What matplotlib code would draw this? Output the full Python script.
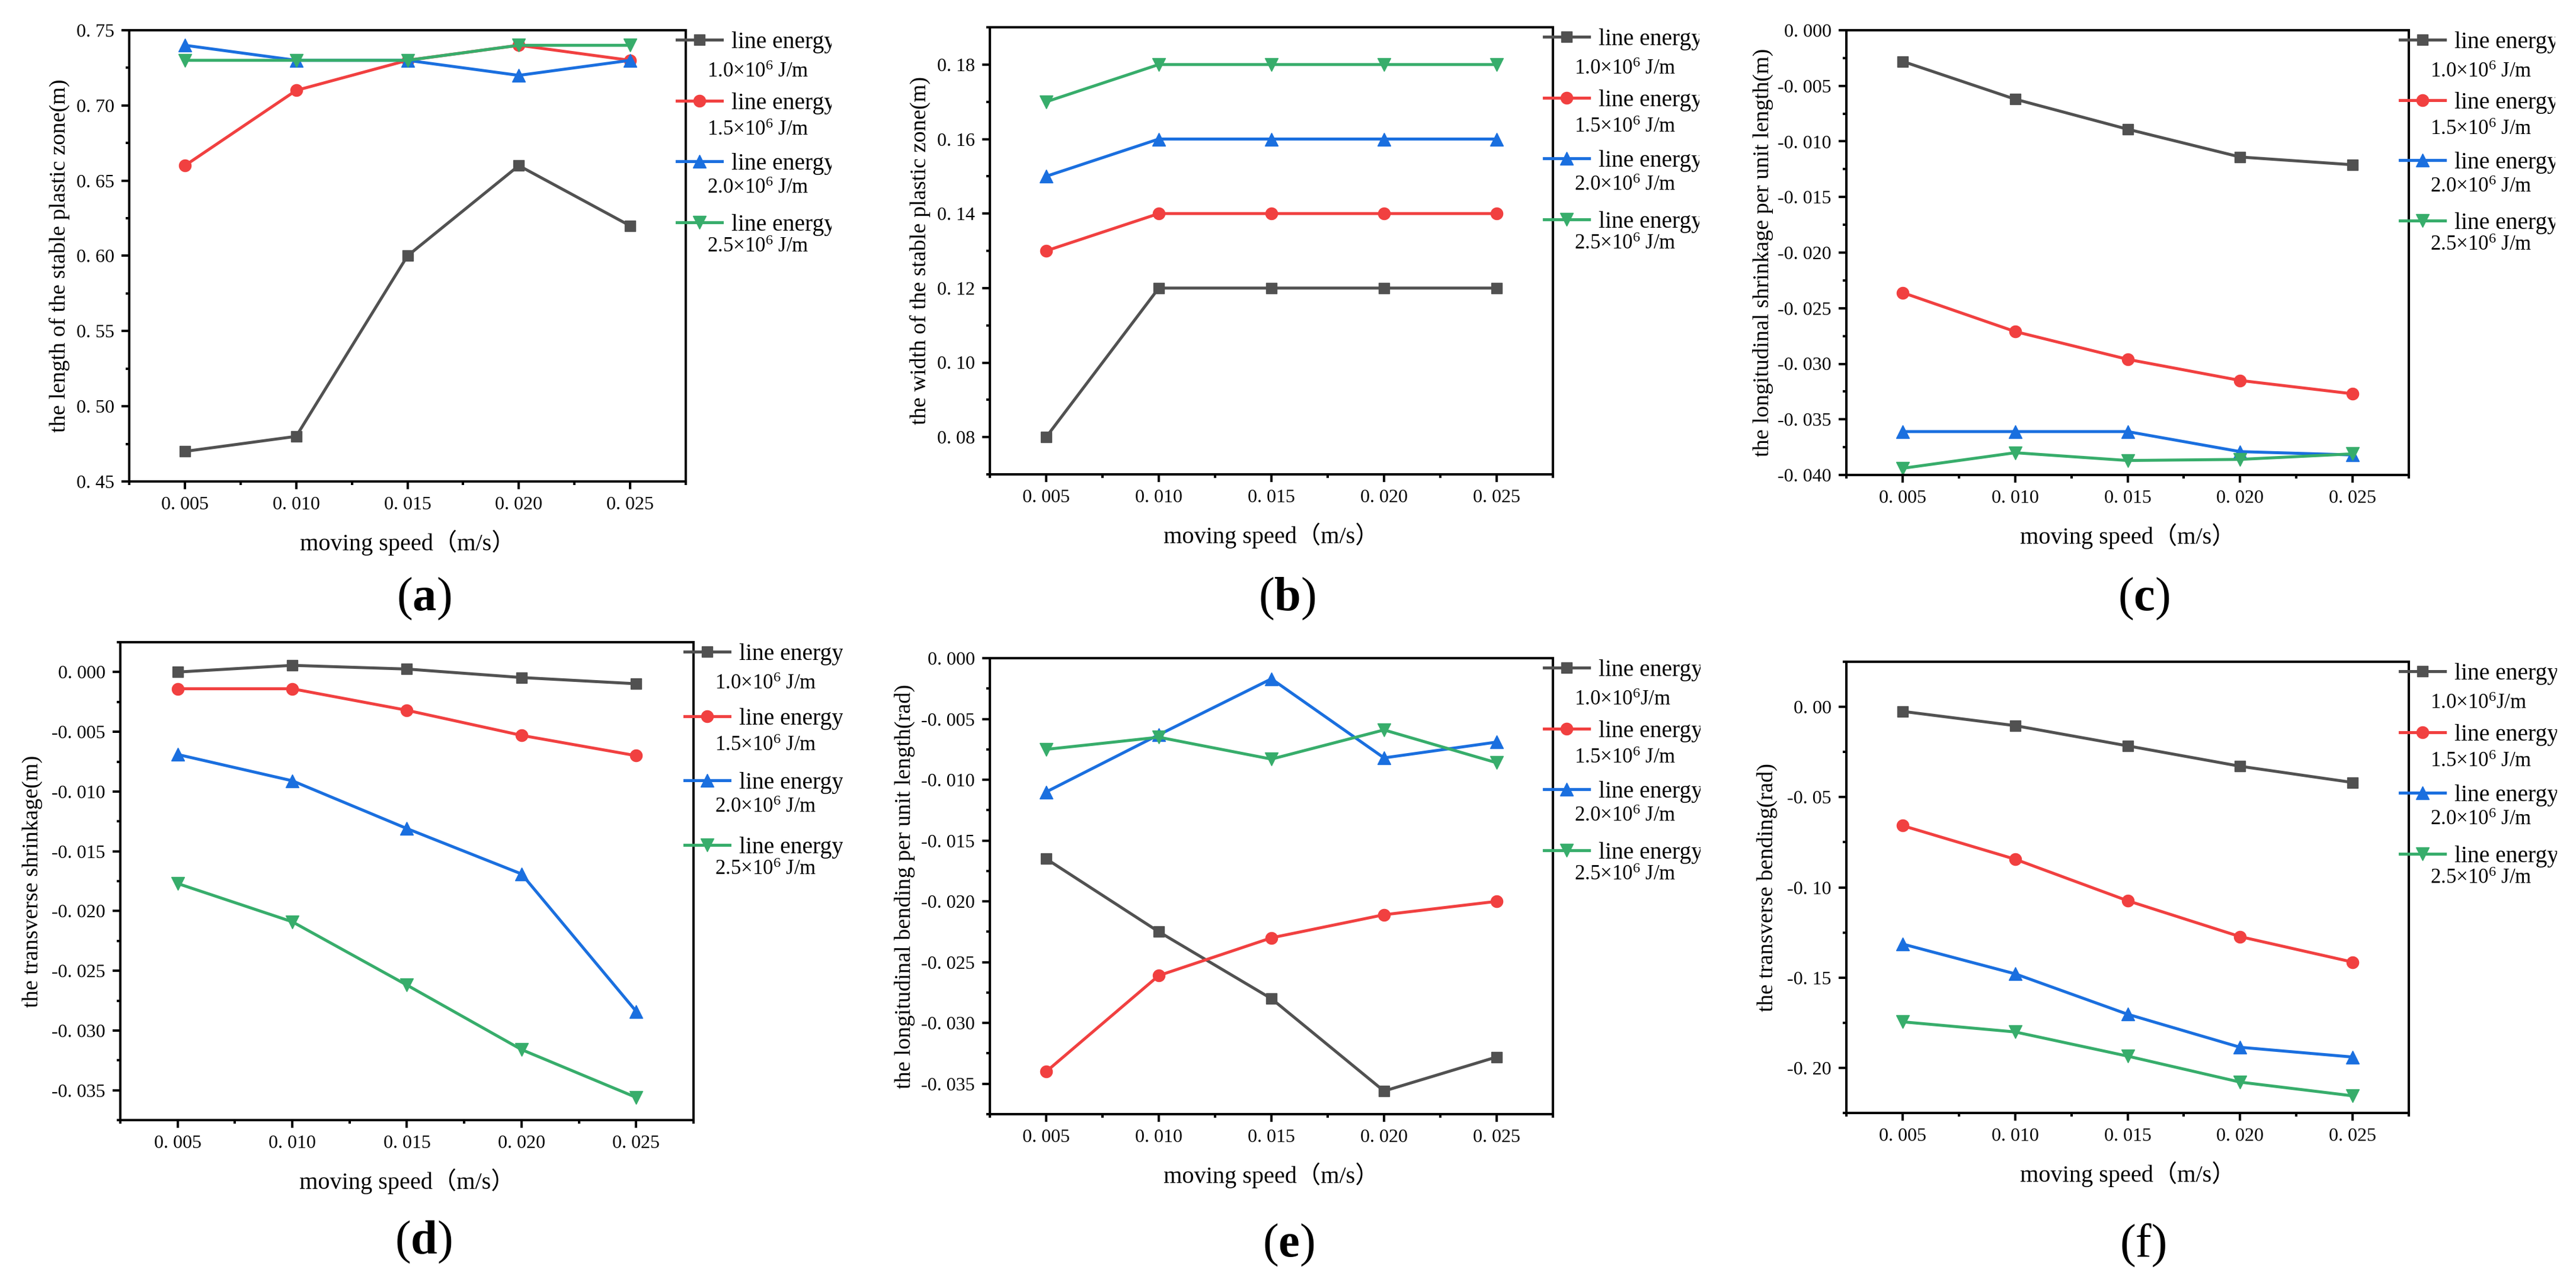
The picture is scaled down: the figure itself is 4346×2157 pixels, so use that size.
import matplotlib
matplotlib.use("Agg")
import matplotlib.pyplot as plt
from matplotlib.ticker import MultipleLocator, FuncFormatter
from matplotlib.transforms import Bbox, TransformedBbox

W, H = 4346, 2157
plt.rcParams['font.family'] = ['Liberation Serif', 'Noto Sans CJK SC']
plt.rcParams['mathtext.fontset'] = 'custom'
plt.rcParams['mathtext.rm'] = 'Liberation Serif'
plt.rcParams['mathtext.it'] = 'Liberation Serif:italic'
plt.rcParams['mathtext.bf'] = 'Liberation Serif:bold'

# data
speed = [0.005, 0.010, 0.015, 0.020, 0.025]
energy = ["1.0", "1.5", "2.0", "2.5"]

plastic_length = [
    [0.47, 0.48, 0.60, 0.66, 0.62],
    [0.66, 0.71, 0.73, 0.74, 0.73],
    [0.74, 0.73, 0.73, 0.72, 0.73],
    [0.73, 0.73, 0.73, 0.74, 0.74],
]
plastic_width = [
    [0.08, 0.12, 0.12, 0.12, 0.12],
    [0.13, 0.14, 0.14, 0.14, 0.14],
    [0.15, 0.16, 0.16, 0.16, 0.16],
    [0.17, 0.18, 0.18, 0.18, 0.18],
]
long_shrink = [
    [-0.0028, -0.0062, -0.0089, -0.0114, -0.0121],
    [-0.0236, -0.0271, -0.0296, -0.0315, -0.0327],
    [-0.0361, -0.0361, -0.0361, -0.0379, -0.0382],
    [-0.0394, -0.0380, -0.0387, -0.0386, -0.0381],
]
trans_shrink = [
    [0.0000, 0.00056, 0.00025, -0.00046, -0.00098],
    [-0.0014, -0.0014, -0.0032, -0.0053, -0.0070],
    [-0.0069, -0.0091, -0.0131, -0.0169, -0.0284],
    [-0.0177, -0.0209, -0.0262, -0.0316, -0.0356],
]
long_bend = [
    [-0.0165, -0.0225, -0.0280, -0.0356, -0.0328],
    [-0.0340, -0.0261, -0.0230, -0.0211, -0.0200],
    [-0.0110, -0.0063, -0.0017, -0.0082, -0.0069],
    [-0.0075, -0.0065, -0.0083, -0.0059, -0.0086],
]
trans_bend = [
    [-0.0025, -0.0104, -0.0216, -0.0329, -0.0419],
    [-0.0658, -0.0844, -0.1074, -0.1273, -0.1414],
    [-0.1314, -0.1479, -0.1703, -0.1886, -0.1940],
    [-0.1745, -0.1801, -0.1935, -0.2079, -0.2155],
]

colors = ["#515151", "#F14040", "#1A6FDF", "#37AD6B"]
markers = ["s", "o", "^", "v"]
msizes = [12.5, 14.5, 16, 16]

# (data, ylabel, ylim, major, minor, decimals, axes box px (l, t, r, b), tag, tag pos, ylabel x, clip x, row gap, space)
panels = [
    (plastic_length, "the length of the stable plastic zone(m)", (0.45, 0.75), 0.05, 0.025, 2,
     (218, 51, 1157, 812), "a", (715, 1010), 100, 1403, 102, " "),
    (plastic_width, "the width of the stable plastic zone(m)", (0.07, 0.19), 0.02, 0.01, 2,
     (1670, 46, 2620, 800), "b", (2171, 1010), 1552, 2867, 102, " "),
    (long_shrink, "the longitudinal shrinkage per unit length(m)", (-0.04, 0.0), 0.005, 0.0025, 3,
     (3115, 51, 4064, 801), "c", (3617, 1010), 2974, 4311, 101, " "),
    (trans_shrink, "the transverse shrinkage(m)", (-0.0375, 0.0025), 0.005, 0.0025, 3,
     (203, 1083, 1170, 1889), "d", (714, 2095), 54, 1422, 108, " "),
    (long_bend, "the longitudinal bending per unit length(rad)", (-0.0375, 0.0), 0.005, 0.0025, 3,
     (1670, 1110, 2620, 1879), "e", (2174, 2100), 1526, 2869, 102, ""),
    (trans_bend, "the transverse bending(rad)", (-0.225, 0.025), 0.05, 0.025, 2,
     (3115, 1116, 4064, 1877), "f", (3617, 2100), 2981, 4314, 102, ""),
]

F1, F2 = 28.5, 25              # legend font sizes in pt
P1, P2 = F1 / 0.72, F2 / 0.72  # in px at 100 dpi


def spaced(nd):
    # the original tick labels show a gap after the decimal point: "0. 005"
    def f(v, pos):
        s = f"{v:.{nd}f}"
        if s.startswith("-") and float(s) == 0:
            s = s[1:]
        return s.replace(".", ". ")
    return FuncFormatter(f)


fig = plt.figure(figsize=(W / 100, H / 100), dpi=100)

for data, ylab, ylim, major, minor, nd, box, tag, tagpos, ylx, clipx, gap, sp in panels:
    l, t, r, b = box
    wpx, hpx = r - l, b - t
    ax = fig.add_axes([l / W, 1 - b / H, wpx / W, hpx / H])
    lines = []
    for i in range(4):
        ln, = ax.plot(speed, data[i], color=colors[i], marker=markers[i], ms=msizes[i],
                      lw=3.6, clip_on=False)
        lines.append(ln)
    ax.set_xlim(0.0025, 0.0275)
    ax.set_ylim(*ylim)
    ax.xaxis.set_major_locator(MultipleLocator(0.005))
    ax.xaxis.set_minor_locator(MultipleLocator(0.0025))
    ax.yaxis.set_major_locator(MultipleLocator(major))
    ax.yaxis.set_minor_locator(MultipleLocator(minor))
    ax.xaxis.set_major_formatter(spaced(3))
    ax.yaxis.set_major_formatter(spaced(nd))
    for s in ax.spines.values():
        s.set_linewidth(2.9)
    ax.tick_params(which="both", direction="out", width=2.9, top=False, right=False)
    ax.tick_params(which="major", length=9.6, labelsize=23)
    ax.tick_params(axis="x", which="major", pad=8.6)
    ax.tick_params(axis="y", which="major", pad=8.5)
    ax.tick_params(which="minor", length=4.5)

    ax.set_xlabel("moving speed（m/s）", fontsize=29)
    ax.xaxis.set_label_coords(0.5, -82 / hpx)
    ax.set_ylabel(ylab, fontsize=27.5)
    ax.yaxis.set_label_coords((ylx + 18 - l) / wpx, 0.5)

    # two stacked legends: "line energy" with keys, value line offset below
    clip = TransformedBbox(Bbox([[0, 0], [clipx / W, 1]]), fig.transFigure)
    leg1 = ax.legend(lines, ["line energy"] * 4, loc="upper left",
                     bbox_to_anchor=(1 - 15 / wpx, 1 - 2 / hpx), frameon=False,
                     fontsize=F1, borderpad=0, borderaxespad=0,
                     handlelength=76 / P1, handletextpad=16 / P1,
                     labelspacing=(gap - 0.92 * P1) / P1)
    for txt in leg1.get_texts():
        txt.set_clip_box(clip)
        txt.set_clip_on(True)
    ax.add_artist(leg1)
    vals = [e + "×10$^{6}$" + (sp if k == 0 else " ") + "J/m" for k, e in enumerate(energy)]
    ax.legend([plt.Line2D([], [], lw=0)] * 4, vals, loc="upper left",
              bbox_to_anchor=(1 + 36 / wpx, 1 - 54 / hpx), frameon=False,
              fontsize=F2, borderpad=0, borderaxespad=0,
              handlelength=0, handletextpad=0,
              labelspacing=(gap - 1.06 * P2) / P2)

    if tag == "f":
        label = "(f)"
    else:
        label = "($\\mathbf{" + tag + "}$)"
    fig.text(tagpos[0] / W, 1 - tagpos[1] / H, label, fontsize=58, ha="center", va="center")

fig.savefig("out.png", dpi=100)
